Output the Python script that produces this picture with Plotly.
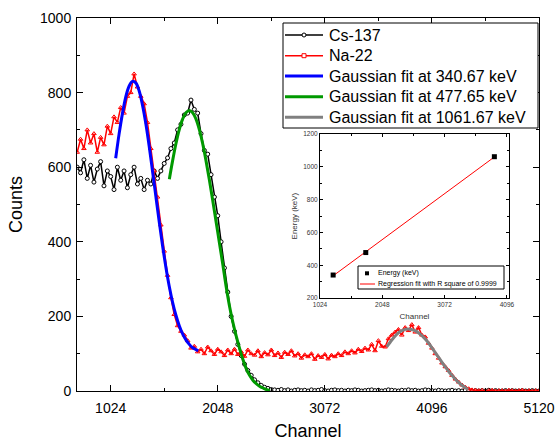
import plotly.graph_objects as go

# ---------------- data ----------------
channels = list(range(704, 5121, 32))

cs137 = [
    600, 585, 620, 570, 605, 560, 595, 615, 550, 590,
    575, 540, 600, 565, 590, 545, 580, 600, 555, 570,
    540, 565, 555, 590, 570, 590, 610, 625, 650, 665,
    700, 715, 740, 745, 780, 755, 745, 690, 645, 635,
    580, 520, 470, 400, 330, 265, 200, 160, 125, 95,
    72, 55, 42, 30, 22, 15, 10, 7, 4, 3,
    2, 4, 1, 3, 0, 2, 3, 1, 2, 0,
    3, 1, 2, 4, 1, 0, 2, 3, 1, 2,
    0, 2, 1, 3, 2, 0, 1, 2, 3, 1,
    2, 0, 1, 3, 2, 1, 0, 2, 1, 3,
    1, 2, 0, 1, 3, 2, 1, 0, 2, 1,
    0, 1, 2, 0, 1, 0, 2, 1, 0, 1,
    0, 1, 0, 2, 0, 1, 0, 0, 1, 0,
    1, 0, 0, 1, 0, 0, 1, 0, 0,
]

na22 = [
    640, 675, 650, 700, 665, 690, 640, 680, 660, 710,
    690, 735, 720, 760, 745, 790, 800, 850, 815, 790,
    770, 720, 650, 590, 520, 445, 375, 310, 250, 205,
    175, 160, 150, 135, 115, 120, 105, 112, 100, 118,
    108, 98, 112, 105, 95, 110, 100, 112, 98, 105,
    93, 110, 100, 96, 108, 92, 103, 97, 110, 95,
    102, 90, 104, 98, 108, 94, 100, 88, 97, 92,
    100, 85, 95, 90, 98, 86, 96, 92, 100, 95,
    105, 100, 108, 102, 112, 106, 115, 110, 125, 108,
    135, 120, 118, 140, 150, 158, 165, 150, 170, 162,
    178, 158, 170, 150, 145, 128, 115, 100, 88, 75,
    65, 55, 42, 32, 24, 16, 10, 6, 3, 2,
    1, 2, 0, 1, 2, 0, 1, 1, 0, 2,
    1, 0, 1, 2, 0, 1, 0, 1, 0,
]

fit1_x = [1072, 1104, 1136, 1168, 1200, 1232, 1264, 1296, 1328, 1360, 1392, 1424,
          1456, 1488, 1520, 1552, 1584, 1616, 1648, 1680, 1712, 1744, 1776, 1808,
          1840, 1862]
fit1_y = [624, 688, 743, 788, 817, 830, 826, 805, 767, 717, 657, 590,
          522, 454, 390, 332, 281, 238, 203, 175, 153, 137, 125, 116,
          111, 108]

fit2_x = [1585, 1616, 1648, 1680, 1712, 1744, 1776, 1808, 1840, 1872, 1904, 1936,
          1968, 2000, 2032, 2064, 2096, 2128, 2160, 2192, 2224, 2256, 2288, 2320,
          2352, 2384, 2416, 2448, 2480, 2512, 2547]
fit2_y = [568, 617, 663, 701, 729, 746, 752, 746, 729, 701, 663, 617,
          566, 511, 454, 397, 340, 280, 228, 185, 148, 115, 85, 60,
          42, 29, 20, 13, 8, 4, 1]

fit3_x = [3663, 3700, 3740, 3780, 3820, 3860, 3900, 3940, 3980, 4020, 4060, 4100,
          4140, 4180, 4220, 4260, 4300, 4340, 4380, 4420, 4443]
fit3_y = [118, 132, 146, 157, 163, 166, 165, 161, 153, 143, 130, 114,
          98, 82, 66, 51, 38, 26, 16, 8, 4]

calib_channel = [1240, 1776, 3890]
calib_energy = [340.67, 477.65, 1061.67]
reg_x = [1240, 3890]
reg_y = [336, 1060]

main_xticks = [1024, 2048, 3072, 4096, 5120]
inset_xticks = [1024, 2048, 3072, 4096]

series_names = ["Cs-137", "Na-22", "Gaussian fit at 340.67 keV",
                "Gaussian fit at 477.65 keV", "Gaussian fit at 1061.67 keV"]
series_colors = ["black", "#ff0000", "#0000ff", "#009900", "#808080"]
series_widths = [1.5, 1.5, 3, 3, 3]

inset_legend_names = ["Energy (keV)", "Regression fit with R square of 0.9999"]

FONT = "Arial, Liberation Sans, sans-serif"

fig = go.Figure()

fig.add_trace(go.Scatter(
    x=channels, y=cs137, name=series_names[0], mode="lines+markers",
    line=dict(color=series_colors[0], width=series_widths[0]),
    marker=dict(symbol="circle", size=4, color="white", line=dict(color="black", width=1)),
))
fig.add_trace(go.Scatter(
    x=channels, y=na22, name=series_names[1], mode="lines+markers",
    line=dict(color=series_colors[1], width=series_widths[1]),
    marker=dict(symbol="triangle-up-open", size=4, color="#ff0000", line=dict(width=1)),
))
for fx, fy, k in [(fit1_x, fit1_y, 2), (fit2_x, fit2_y, 3), (fit3_x, fit3_y, 4)]:
    fig.add_trace(go.Scatter(
        x=fx, y=fy, name=series_names[k], mode="lines",
        line=dict(color=series_colors[k], width=series_widths[k], shape="spline"),
    ))

# inset
fig.add_trace(go.Scatter(
    x=reg_x, y=reg_y, mode="lines", xaxis="x2", yaxis="y2", name=inset_legend_names[1],
    line=dict(color="#ff0000", width=1),
))
fig.add_trace(go.Scatter(
    x=calib_channel, y=calib_energy, mode="markers", xaxis="x2", yaxis="y2",
    name=inset_legend_names[0], marker=dict(symbol="square", size=5, color="black"),
))

axis_common = dict(showline=True, linecolor="black", linewidth=1, mirror="ticks",
                   ticks="inside", tickcolor="black", showgrid=False, zeroline=False)

fig.update_layout(
    width=556, height=441,
    margin=dict(l=77, r=17, t=18, b=50),
    paper_bgcolor="white", plot_bgcolor="white",
    font=dict(family=FONT, color="black"),
    showlegend=False,
    xaxis=dict(
        **axis_common, range=[702, 5120], tickvals=main_xticks, ticklen=6,
        tickfont=dict(size=14), ticklabelstandoff=4,
        minor=dict(ticks="inside", ticklen=3, dtick=512, tick0=0, tickcolor="black"),
        title=dict(text="Channel", font=dict(size=18), standoff=14),
        automargin=False,
    ),
    yaxis=dict(
        **axis_common, range=[0, 1000], dtick=200, ticklen=6,
        tickfont=dict(size=14), ticklabelstandoff=2,
        minor=dict(ticks="inside", ticklen=3, dtick=100, tickcolor="black"),
        title=dict(text="Counts", font=dict(size=18), standoff=12),
        automargin=False,
    ),
    xaxis2=dict(
        **axis_common, domain=[0.526, 0.935], anchor="y2", range=[1024, 4130],
        tickvals=inset_xticks, ticklen=3, tickfont=dict(size=6.5, color="#333"),
        minor=dict(ticks="inside", ticklen=2, dtick=512, tick0=0, tickcolor="black"),
        title=dict(text="Channel", font=dict(size=8, color="#333"), standoff=6),
        automargin=False,
    ),
    yaxis2=dict(
        **axis_common, domain=[0.249, 0.689], anchor="x2", range=[200, 1200],
        dtick=200, ticklen=3, tickfont=dict(size=6.5, color="#333"),
        minor=dict(ticks="inside", ticklen=2, dtick=100, tickcolor="black"),
        title=dict(text="Energy (keV)", font=dict(size=8, color="#333"), standoff=4),
        automargin=False,
    ),
)

# ---------- main legend (drawn with shapes + annotations) ----------
def px_x(p):
    return (p - 77) / 462.0

def px_y(p):
    return (391 - p) / 373.0

fig.add_shape(type="rect", xref="paper", yref="paper",
              x0=px_x(283), x1=px_x(538), y0=px_y(128), y1=px_y(23),
              line=dict(color="black", width=1), fillcolor="white", layer="above")
rows = [35, 55.7, 76, 96.7, 117.3]
for k, ry in enumerate(rows):
    fig.add_shape(type="line", xref="paper", yref="paper",
                  x0=px_x(285), x1=px_x(323), y0=px_y(ry), y1=px_y(ry),
                  line=dict(color=series_colors[k], width=series_widths[k]), layer="above")
    fig.add_annotation(xref="paper", yref="paper", x=px_x(327), y=px_y(ry),
                       xanchor="left", yanchor="middle", text=series_names[k],
                       showarrow=False, font=dict(size=16, color="black"))
# legend symbol markers
fig.add_shape(type="circle", xref="paper", yref="paper", xsizemode="pixel", ysizemode="pixel",
              xanchor=px_x(304), yanchor=px_y(rows[0]), x0=-2, x1=2, y0=-2, y1=2,
              line=dict(color="black", width=1), fillcolor="white", layer="above")
fig.add_shape(type="rect", xref="paper", yref="paper", xsizemode="pixel", ysizemode="pixel",
              xanchor=px_x(304), yanchor=px_y(rows[1]), x0=-2, x1=2, y0=-2, y1=2,
              line=dict(color="#ff0000", width=1), fillcolor="white", layer="above")

# ---------- inset legend ----------
fig.add_shape(type="rect", xref="paper", yref="paper", x0=px_x(358), x1=px_x(504),
              y0=px_y(289), y1=px_y(266),
              line=dict(color="black", width=1), fillcolor="white", layer="above")
fig.add_shape(type="rect", xref="paper", yref="paper", xsizemode="pixel", ysizemode="pixel",
              xanchor=px_x(367), yanchor=px_y(273.3), x0=-2, x1=2, y0=-2, y1=2,
              line=dict(color="black", width=0), fillcolor="black", layer="above")
fig.add_shape(type="line", xref="paper", yref="paper", x0=px_x(360), x1=px_x(375),
              y0=px_y(284), y1=px_y(284), line=dict(color="#ff0000", width=1), layer="above")
fig.add_annotation(xref="paper", yref="paper", x=px_x(376), y=px_y(273.3), xanchor="left",
                   yanchor="middle", text=inset_legend_names[0], showarrow=False,
                   font=dict(size=7, color="black"))
fig.add_annotation(xref="paper", yref="paper", x=px_x(376), y=px_y(284), xanchor="left",
                   yanchor="middle", text=inset_legend_names[1], showarrow=False,
                   font=dict(size=7, color="black"))

fig.write_html(
    "out.html",
    config={"displayModeBar": False},
    post_script="document.body.style.margin='0';document.body.style.overflow='hidden';"
                "document.documentElement.style.overflow='hidden';",
)
